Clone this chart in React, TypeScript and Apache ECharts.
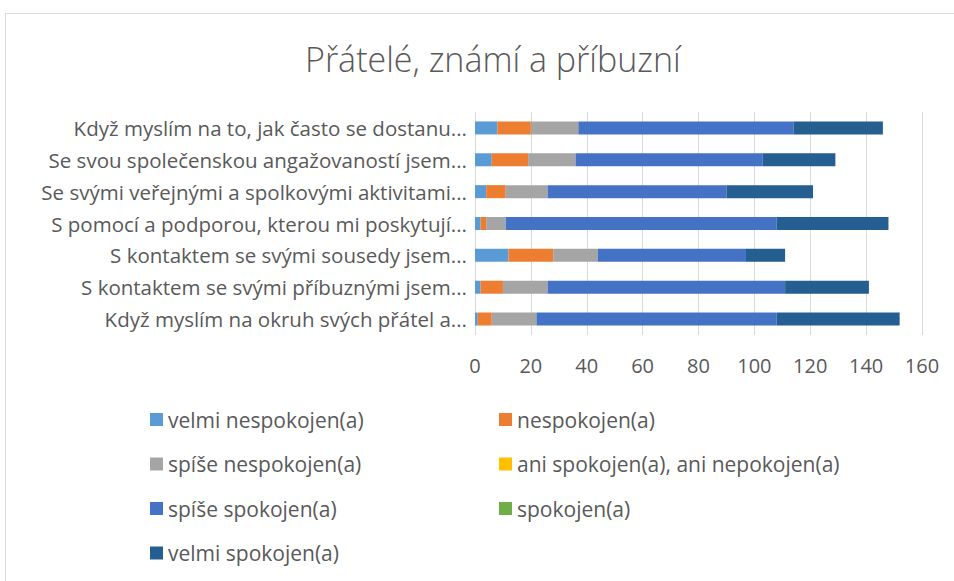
import React, { useEffect, useRef } from "react";
import * as echarts from "echarts";

const categories = [
  "Když myslím na to, jak často se dostanu...",
  "Se svou společenskou angažovaností jsem...",
  "Se svými veřejnými a spolkovými aktivitami...",
  "S pomocí a podporou, kterou mi poskytují...",
  "S kontaktem se svými sousedy jsem...",
  "S kontaktem se svými příbuznými jsem...",
  "Když myslím na okruh svých přátel a...",
];

const seriesNames = [
  "velmi nespokojen(a)",
  "nespokojen(a)",
  "spíše nespokojen(a)",
  "ani spokojen(a), ani nepokojen(a)",
  "spíše spokojen(a)",
  "spokojen(a)",
  "velmi spokojen(a)",
];

const velmiNespokojen = [8, 6, 4, 2, 12, 2, 1];
const nespokojen = [12, 13, 7, 2, 16, 8, 5];
const spiseNespokojen = [17, 17, 15, 7, 16, 16, 16];
const aniAni = [0, 0, 0, 0, 0, 0, 0];
const spiseSpokojen = [77, 67, 64, 97, 53, 85, 86];
const spokojen = [0, 0, 0, 0, 0, 0, 0];
const velmiSpokojen = [32, 26, 31, 40, 14, 30, 44];

const seriesValues = [
  velmiNespokojen,
  nespokojen,
  spiseNespokojen,
  aniAni,
  spiseSpokojen,
  spokojen,
  velmiSpokojen,
];

const colors = ["#5B9BD5", "#ED7D31", "#A5A5A5", "#FFC000", "#4472C4", "#70AD47", "#255E91"];

const FONT = "'Open Sans', 'Noto Sans', sans-serif";
const TXT = "#595959";

export default function App() {
  const ref = useRef<HTMLDivElement>(null);
  useEffect(() => {
    if (!ref.current) return;
    const chart = echarts.init(ref.current, undefined, { renderer: "svg" });
    const legendCommon = {
      orient: "vertical" as const,
      icon: "rect",
      itemWidth: 13,
      itemHeight: 13,
      itemGap: 23.5,
      textStyle: { fontSize: 21, color: TXT, fontFamily: FONT },
      selectedMode: false,
    };
    chart.setOption({
      animation: false,
      color: colors,
      title: {
        text: "Přátelé, známí a příbuzní",
        left: 300,
        top: 37,
        textStyle: { fontSize: 34, fontWeight: 300, color: TXT, fontFamily: FONT },
      },
      graphic: [
        {
          type: "rect",
          shape: { x: 5.5, y: 13.5, width: 960, height: 600 },
          style: { fill: "none", stroke: "#d9d9d9", lineWidth: 1 },
          silent: true,
        },
      ],
      legend: [
        {
          ...legendCommon,
          left: 145,
          top: 404,
          data: [seriesNames[0], seriesNames[2], seriesNames[4], seriesNames[6]],
        },
        {
          ...legendCommon,
          left: 494,
          top: 404,
          data: [seriesNames[1], seriesNames[3], seriesNames[5]],
        },
      ],
      grid: { left: 475, right: 32, top: 112, bottom: 246, containLabel: false },
      xAxis: {
        type: "value",
        min: 0,
        max: 160,
        interval: 20,
        axisLine: { show: false },
        axisTick: { show: false },
        splitLine: { show: true, lineStyle: { color: "#d9d9d9", width: 1 } },
        axisLabel: { fontSize: 20, color: TXT, fontFamily: FONT, margin: 20 },
      },
      yAxis: {
        type: "category",
        inverse: true,
        data: categories,
        axisLine: { show: false },
        axisTick: { show: false },
        axisLabel: { fontSize: 20.5, color: TXT, fontFamily: FONT, margin: 8 },
      },
      series: seriesNames.map((name, i) => ({
        name,
        type: "bar",
        stack: "total",
        barWidth: 13,
        data: seriesValues[i],
        itemStyle: { color: colors[i] },
      })),
    });
    return () => chart.dispose();
  }, []);
  return (
    <div
      ref={ref}
      style={{ position: "fixed", left: 0, top: 0, width: 954, height: 581, background: "#fff" }}
    />
  );
}
